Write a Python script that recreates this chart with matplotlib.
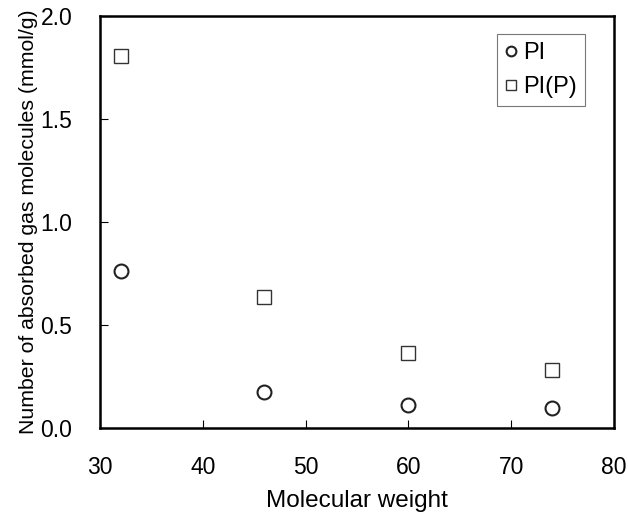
import numpy as np
import matplotlib
matplotlib.use("Agg")
import matplotlib.pyplot as plt

plt.rcParams['font.family'] = ['Liberation Sans', 'DejaVu Sans']

# data
mol_weight = [32, 46, 60, 74]
pi_vals = [0.764, 0.175, 0.110, 0.097]
pip_vals = [1.806, 0.637, 0.364, 0.280]

fig = plt.figure(figsize=(6.28, 5.16), dpi=100)
ax = fig.add_axes([100 / 628, (516 - 428) / 516, 514 / 628, 412 / 516])

ax.plot(mol_weight, pi_vals, linestyle='none', marker='o', markersize=10,
        markerfacecolor='white', markeredgecolor='#222222', markeredgewidth=1.5, label='PI')
ax.plot(mol_weight, pip_vals, linestyle='none', marker='s', markersize=9.5,
        markerfacecolor='white', markeredgecolor='#333333', markeredgewidth=1.0, label='PI(P)')

ax.set_xlim(30, 80)
ax.set_ylim(0, 2.0)
ax.set_xticks(np.arange(30, 81, 10))
ax.set_yticks(np.arange(0, 2.01, 0.5))
ax.set_yticklabels(['0.0', '0.5', '1.0', '1.5', '2.0'])

for s in ax.spines.values():
    s.set_linewidth(1.8)
ax.tick_params(direction='in', length=6, width=0.8, labelsize=16.5)
ax.tick_params(axis='x', pad=20)
ax.tick_params(axis='y', pad=20)

ax.set_xlabel('Molecular weight', fontsize=17.5, labelpad=8)
ax.set_ylabel('Number of absorbed gas molecules (mmol/g)', fontsize=15.3, labelpad=2)

leg = ax.legend(loc='upper right', bbox_to_anchor=(0.944, 0.956), fontsize=17, frameon=True,
                fancybox=False, edgecolor='#555555', markerscale=0.7, handlelength=0.45,
                handletextpad=0.3, borderpad=0.35, labelspacing=0.5, borderaxespad=0)
leg.get_frame().set_linewidth(0.8)

fig.savefig('out.png', dpi=100)
